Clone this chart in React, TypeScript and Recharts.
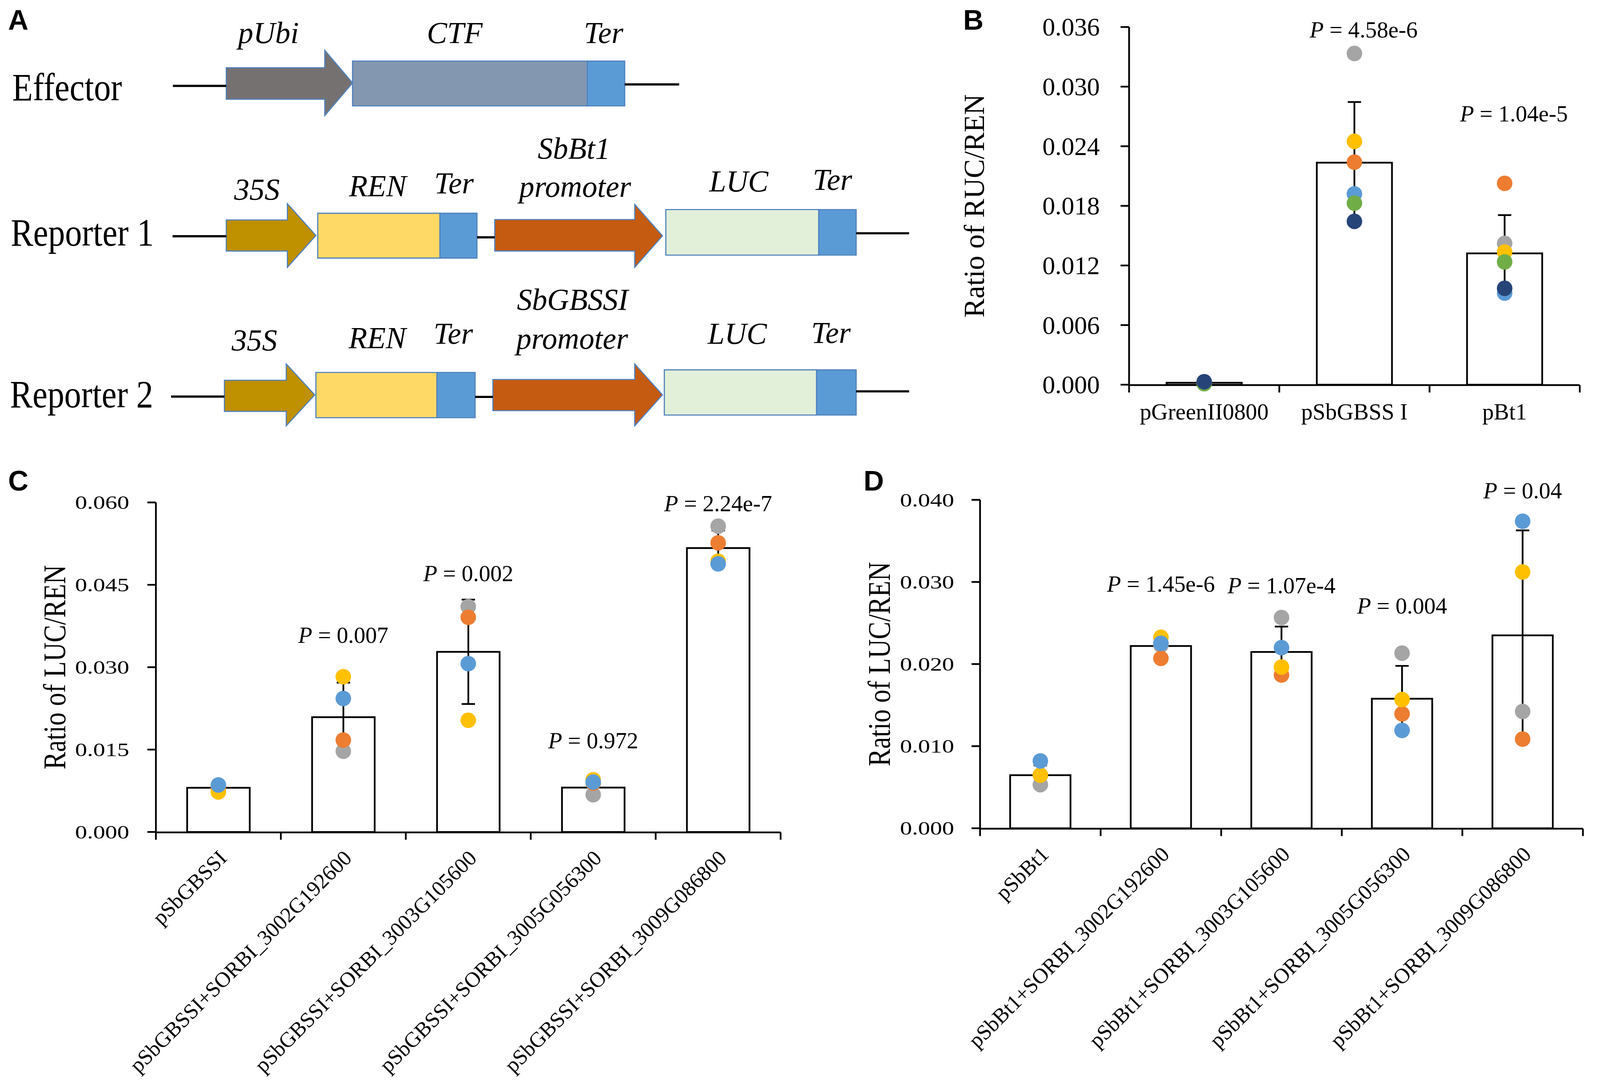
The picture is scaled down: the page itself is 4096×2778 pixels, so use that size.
import React from 'react';
import {
  ComposedChart, Bar, Line, XAxis, YAxis, ErrorBar,
  ReferenceArea, ReferenceLine, ReferenceDot,
} from 'recharts';

const S = 0.948;
const s = (v: number) => v * S;
const SERIF = "'Liberation Serif', 'Times New Roman', serif";
const SANS = "'Liberation Sans', Arial, sans-serif";
const LW = s(4.7);

const COLORS: Record<string, string> = {
  gray: '#A5A5A5',
  orange: '#ED7D31',
  yellow: '#FFC000',
  blue: '#5B9BD5',
  green: '#70AD47',
  darkblue: '#264478',
};

// ---------------- Panel B data ----------------
const bCategories = ['pGreenII0800', 'pSbGBSS I', 'pBt1'];
const bMean = [0.0002, 0.02235, 0.01322];
const bErr = [0.0001, 0.0061, 0.00385];
const bGray = [0.0002, 0.03334, 0.01422];
const bOrange = [0.0002, 0.0224, 0.02027];
const bYellow = [0.0002, 0.02449, 0.01336];
const bBlue = [0.0002, 0.01921, 0.00922];
const bGreen = [0.0001, 0.01827, 0.01236];
const bDarkBlue = [0.0003, 0.01644, 0.0097];
const bPValue = ['', '4.58e-6', '1.04e-5'];
const bPLabelY: (number | null)[] = [null, 0.03495, 0.02648];
const bYTicks = [0, 0.006, 0.012, 0.018, 0.024, 0.03, 0.036];

// ---------------- Panel C data ----------------
const cCategories = [
  'pSbGBSSI',
  'pSbGBSSI+SORBI_3002G192600',
  'pSbGBSSI+SORBI_3003G105600',
  'pSbGBSSI+SORBI_3005G056300',
  'pSbGBSSI+SORBI_3009G086800',
];
const cMean = [0.00805, 0.0209, 0.0328, 0.00808, 0.0517];
const cErr = [0.0006, 0.0063, 0.0095, 0.0012, 0.0032];
const cGray = [0.0083, 0.01471, 0.04103, 0.00678, 0.05568];
const cOrange = [0.00795, 0.01673, 0.03909, 0.0089, 0.05265];
const cYellow = [0.00728, 0.02827, 0.02034, 0.0095, 0.0493];
const cBlue = [0.00856, 0.0243, 0.03065, 0.00909, 0.04882];
const cPValue = ['', '0.007', '0.002', '0.972', '2.24e-7'];
const cPLabelY: (number | null)[] = [null, 0.0344, 0.0457, 0.01524, 0.0584];
const cYTicks = [0, 0.015, 0.03, 0.045, 0.06];

// ---------------- Panel D data ----------------
const dCategories = [
  'pSbBt1',
  'pSbBt1+SORBI_3002G192600',
  'pSbBt1+SORBI_3003G105600',
  'pSbBt1+SORBI_3005G056300',
  'pSbBt1+SORBI_3009G086800',
];
const dMean = [0.00647, 0.0222, 0.02147, 0.01578, 0.0235];
const dErr = [0.0012, 0.0011, 0.0031, 0.004, 0.01278];
const dGray = [0.00531, 0.0223, 0.02567, 0.02133, 0.01423];
const dOrange = [0.00647, 0.0207, 0.01867, 0.01394, 0.01086];
const dYellow = [0.00647, 0.02326, 0.01964, 0.01568, 0.03122];
const dBlue = [0.0082, 0.02253, 0.022, 0.01192, 0.03739];
const dPValue = ['', '1.45e-6', '1.07e-4', '0.004', '0.04'];
const dPLabelY: (number | null)[] = [null, 0.02882, 0.0286, 0.02616, 0.04018];
const dYTicks = [0, 0.01, 0.02, 0.03, 0.04];

// ---------------- Panel A schematic (diagram units) ----------------
const diagramLines = [
  { x1: 467, x2: 611, y: 232 },
  { x1: 1687, x2: 1834, y: 228 },
  { x1: 466, x2: 611, y: 638 },
  { x1: 1288, x2: 1336, y: 641 },
  { x1: 2312, x2: 2455, y: 630 },
  { x1: 462, x2: 606, y: 1071 },
  { x1: 1283, x2: 1331, y: 1072 },
  { x1: 2312, x2: 2455, y: 1057 },
];
const diagramArrows = [
  { x1: 611, neck: 877, x2: 952, bodyTop: 183, bodyBottom: 268, headTop: 136, headBottom: 312, fill: '#767171' },
  { x1: 611, neck: 776, x2: 853, bodyTop: 594, bodyBottom: 678, headTop: 550, headBottom: 722, fill: '#BF9000' },
  { x1: 1336, neck: 1714, x2: 1789, bodyTop: 593, bodyBottom: 678, headTop: 552, headBottom: 722, fill: '#C55A11' },
  { x1: 606, neck: 773, x2: 850, bodyTop: 1027, bodyBottom: 1111, headTop: 983, headBottom: 1150, fill: '#BF9000' },
  { x1: 1331, neck: 1714, x2: 1789, bodyTop: 1025, bodyBottom: 1109, headTop: 983, headBottom: 1150, fill: '#C55A11' },
];
const diagramBoxes = [
  { x1: 952, x2: 1586, y1: 165, y2: 286, fill: '#8497B0' },
  { x1: 1586, x2: 1687, y1: 165, y2: 286, fill: '#5B9BD5' },
  { x1: 858, x2: 1188, y1: 576, y2: 697, fill: '#FFD966' },
  { x1: 1188, x2: 1288, y1: 576, y2: 697, fill: '#5B9BD5' },
  { x1: 1798, x2: 2211, y1: 566, y2: 689, fill: '#E2F0D9' },
  { x1: 2211, x2: 2312, y1: 566, y2: 689, fill: '#5B9BD5' },
  { x1: 853, x2: 1180, y1: 1006, y2: 1128, fill: '#FFD966' },
  { x1: 1180, x2: 1283, y1: 1006, y2: 1128, fill: '#5B9BD5' },
  { x1: 1794, x2: 2205, y1: 999, y2: 1121, fill: '#E2F0D9' },
  { x1: 2205, x2: 2312, y1: 999, y2: 1121, fill: '#5B9BD5' },
];
const diagramPartLabels = [
  { t: 'pUbi', x: 725, y: 116 },
  { t: 'CTF', x: 1228, y: 116 },
  { t: 'Ter', x: 1630, y: 116 },
  { t: '35S', x: 694, y: 539 },
  { t: 'REN', x: 1020, y: 530 },
  { t: 'Ter', x: 1226, y: 522 },
  { t: 'SbBt1', x: 1550, y: 428 },
  { t: 'promoter', x: 1553, y: 532 },
  { t: 'LUC', x: 1995, y: 517 },
  { t: 'Ter', x: 2248, y: 513 },
  { t: '35S', x: 687, y: 946 },
  { t: 'REN', x: 1019, y: 940 },
  { t: 'Ter', x: 1224, y: 928 },
  { t: 'SbGBSSI', x: 1546, y: 836 },
  { t: 'promoter', x: 1545, y: 942 },
  { t: 'LUC', x: 1991, y: 928 },
  { t: 'Ter', x: 2244, y: 926 },
];
const diagramRowLabels = [
  { t: 'Effector', x: 33, y: 271 },
  { t: 'Reporter 1', x: 29, y: 664 },
  { t: 'Reporter 2', x: 27, y: 1100 },
];
const panelLetters = [
  { t: 'A', x: 22, y: 80 },
  { t: 'B', x: 2601, y: 80 },
  { t: 'C', x: 22, y: 1325 },
  { t: 'D', x: 2332, y: 1325 },
];

const OUTLINE = '#4F81BD';

function buildRows(
  cats: string[], mean: number[], err: number[],
  dots: Record<string, number[]>, pVal: string[], pY: (number | null)[],
) {
  return cats.map((name, i) => {
    const row: any = { name, pos: i + 0.5, mean: mean[i], err: err[i], pVal: pVal[i], pY: pY[i] };
    Object.keys(dots).forEach((k) => { row[k] = dots[k][i]; });
    return row;
  });
}

const bRows = buildRows(bCategories, bMean, bErr,
  { gray: bGray, orange: bOrange, yellow: bYellow, blue: bBlue, green: bGreen, darkblue: bDarkBlue },
  bPValue, bPLabelY);
const cRows = buildRows(cCategories, cMean, cErr,
  { gray: cGray, orange: cOrange, yellow: cYellow, blue: cBlue }, cPValue, cPLabelY);
const dRows = buildRows(dCategories, dMean, dErr,
  { gray: dGray, orange: dOrange, yellow: dYellow, blue: dBlue }, dPValue, dPLabelY);

const makeDot = (color: string, r: number) => (props: any) => {
  const { cx, cy, index } = props;
  if (cx == null || cy == null || Number.isNaN(cy)) return <g key={`e-${color}-${index}`} />;
  return <circle key={`d-${color}-${index}`} cx={cx} cy={cy} r={r} fill={color} />;
};

const emptyTick = () => <g />;

type PanelCfg = {
  box: { x: number; y: number; w: number; h: number };
  margin: { top: number; right: number; bottom: number; left: number };
  rows: any[];
  dotKeys: string[];
  yDomain: [number, number];
  yTicks: number[];
  yLabel: string;
  yLabelDist: number;
  yLabelFont: number;
  yLabelScale: number;
  yTickFont: number;
  yTickScaleX: number;
  yTickMargin: number;
  barW: number;
  rotated: boolean;
  xLabelFont: number;
  pFont: number;
  pOffsetX: number;
};

// Axes need a positive size to be drawn; they get 1px each.
const AX = 1;

function BarPanel({ cfg }: { cfg: PanelCfg }) {
  const n = cfg.rows.length;
  const edgeTicks = Array.from({ length: n + 1 }, (_, i) => i);

  const yTick = (p: any) => (
    <g transform={`translate(${p.x},${p.y}) scale(${cfg.yTickScaleX},1)`}>
      <text x={0} y={0} dy="0.34em" textAnchor="end" fontFamily={SERIF}
        fontSize={s(cfg.yTickFont)} fill="#000">
        {Number(p.payload.value).toFixed(3)}
      </text>
    </g>
  );

  const xTick = (p: any) => {
    if (cfg.rotated) {
      const ax = p.x + s(26);
      const ay = p.y + s(74);
      return (
        <text x={ax} y={ay} transform={`rotate(-45 ${ax} ${ay})`} textAnchor="end"
          fontFamily={SERIF} fontSize={s(cfg.xLabelFont)} fill="#000">
          {p.payload.value}
        </text>
      );
    }
    return (
      <text x={p.x} y={p.y + s(94)} textAnchor="middle" fontFamily={SERIF}
        fontSize={s(cfg.xLabelFont)} fill="#000">
        {p.payload.value}
      </text>
    );
  };

  const yLabel = (lp: any) => {
    const vb = lp && lp.viewBox;
    if (!vb) return null;
    const x = vb.x + (vb.width || 0) - s(cfg.yLabelDist);
    const y = vb.y + vb.height / 2;
    return (
      <g transform={`translate(${x},${y}) rotate(-90) scale(1,${cfg.yLabelScale})`}>
        <text x={0} y={0} textAnchor="middle" fontFamily={SERIF}
          fontSize={s(cfg.yLabelFont)} fill="#000">
          {cfg.yLabel}
        </text>
      </g>
    );
  };

  return (
    <div style={{ position: 'absolute', left: s(cfg.box.x), top: s(cfg.box.y) }}>
      <ComposedChart
        width={s(cfg.box.w)}
        height={s(cfg.box.h)}
        data={cfg.rows}
        margin={{
          top: s(cfg.margin.top), right: s(cfg.margin.right),
          bottom: s(cfg.margin.bottom) - 2 * AX, left: s(cfg.margin.left) - AX,
        }}
      >
        <XAxis
          xAxisId="edge" dataKey="pos" type="number" domain={[0, n]} ticks={edgeTicks}
          allowDataOverflow interval={0} height={AX} tickSize={s(20)} tick={emptyTick}
          axisLine={{ stroke: '#000', strokeWidth: LW }}
          tickLine={{ stroke: '#000', strokeWidth: LW }}
        />
        <XAxis
          xAxisId="cat" dataKey="name" type="category" interval={0} height={AX}
          tickSize={0} tickMargin={0} axisLine={false} tickLine={false} tick={xTick}
        />
        <YAxis
          type="number" domain={cfg.yDomain} ticks={cfg.yTicks} interval={0} width={AX}
          tickSize={s(23)} tickMargin={s(cfg.yTickMargin)} tick={yTick}
          axisLine={{ stroke: '#000', strokeWidth: LW }}
          tickLine={{ stroke: '#000', strokeWidth: LW }}
          label={yLabel}
        />
        <Bar xAxisId="cat" dataKey="mean" fill="#FFFFFF" stroke="#000" strokeWidth={LW}
          barSize={s(cfg.barW)} isAnimationActive={false}>
          <ErrorBar dataKey="err" width={s(18)} stroke="#000" strokeWidth={LW} direction="y" />
        </Bar>
        {cfg.dotKeys.map((k) => (
          <Line key={k} xAxisId="cat" dataKey={k} stroke="none" isAnimationActive={false}
            dot={makeDot(COLORS[k], s(21))} activeDot={false} legendType="none" />
        ))}
        {cfg.rows.map((r, i) => (r.pY == null ? null : (
          <ReferenceDot
            key={`p${i}`} xAxisId="cat" x={r.name} y={r.pY} r={0} ifOverflow="visible"
            shape={(sp: any) => (
              <text x={sp.cx + s(cfg.pOffsetX)} y={sp.cy} textAnchor="middle" fontFamily={SERIF}
                fontSize={s(cfg.pFont)} fill="#000">
                <tspan fontStyle="italic">P</tspan>{` = ${r.pVal}`}
              </text>
            )}
          />
        )))}
      </ComposedChart>
    </div>
  );
}

const arrowShape = (p: any, a: typeof diagramArrows[number]) => {
  const fx = (v: number) => p.x + ((v - a.x1) / (a.x2 - a.x1)) * p.width;
  const fy = (v: number) => p.y + ((v - a.headTop) / (a.headBottom - a.headTop)) * p.height;
  const mid = (a.headTop + a.headBottom) / 2;
  const pts = [
    [fx(a.x1), fy(a.bodyTop)], [fx(a.neck), fy(a.bodyTop)], [fx(a.neck), fy(a.headTop)],
    [fx(a.x2), fy(mid)], [fx(a.neck), fy(a.headBottom)], [fx(a.neck), fy(a.bodyBottom)],
    [fx(a.x1), fy(a.bodyBottom)],
  ].map((q) => q.join(',')).join(' ');
  return <polygon points={pts} fill={a.fill} stroke={OUTLINE} strokeWidth={s(3)} strokeLinejoin="miter" />;
};

function DiagramPanel() {
  return (
    <div style={{ position: 'absolute', left: 0, top: 0 }}>
      <ComposedChart width={s(2480)} height={s(1180)} data={[{ u: 0, v: 0 }]}
        margin={{ top: 0, right: 0, bottom: 0, left: 0 }}>
        <XAxis dataKey="u" type="number" domain={[0, 2480]} hide allowDataOverflow />
        <YAxis dataKey="v" type="number" domain={[0, 1180]} hide reversed allowDataOverflow />
        {diagramLines.map((l, i) => (
          <ReferenceLine key={`l${i}`} segment={[{ x: l.x1, y: l.y }, { x: l.x2, y: l.y }]}
            stroke="#000" strokeWidth={s(6)} ifOverflow="visible" />
        ))}
        {diagramBoxes.map((b, i) => (
          <ReferenceArea key={`b${i}`} x1={b.x1} x2={b.x2} y1={b.y1} y2={b.y2}
            fill={b.fill} fillOpacity={1} stroke={OUTLINE} strokeWidth={s(3)} ifOverflow="visible" />
        ))}
        {diagramArrows.map((a, i) => (
          <ReferenceArea key={`a${i}`} x1={a.x1} x2={a.x2} y1={a.headTop} y2={a.headBottom}
            ifOverflow="visible" shape={(p: any) => arrowShape(p, a)} />
        ))}
        {diagramPartLabels.map((t, i) => (
          <ReferenceDot key={`t${i}`} x={t.x} y={t.y} r={0} ifOverflow="visible"
            shape={(sp: any) => (
              <text x={sp.cx} y={sp.cy} textAnchor="middle" fontFamily={SERIF}
                fontStyle="italic" fontSize={s(82)} fill="#000">{t.t}</text>
            )} />
        ))}
        {diagramRowLabels.map((t, i) => (
          <ReferenceDot key={`r${i}`} x={t.x} y={t.y} r={0} ifOverflow="visible"
            shape={(sp: any) => (
              <g transform={`translate(${sp.cx},${sp.cy}) scale(1,1.16)`}>
                <text x={0} y={0} textAnchor="start" fontFamily={SERIF}
                  fontSize={s(91)} fill="#000">{t.t}</text>
              </g>
            )} />
        ))}
      </ComposedChart>
    </div>
  );
}

const panelB: PanelCfg = {
  box: { x: 2500, y: 0, w: 1817, h: 1250 },
  margin: { top: 73, right: 51, bottom: 211, left: 549 },
  rows: bRows,
  dotKeys: ['gray', 'orange', 'yellow', 'blue', 'green', 'darkblue'],
  yDomain: [0, 0.036],
  yTicks: bYTicks,
  yLabel: 'Ratio of RUC/REN',
  yLabelDist: 392,
  yLabelFont: 77,
  yLabelScale: 1,
  yTickFont: 69,
  yTickScaleX: 1,
  yTickMargin: 56,
  barW: 203,
  rotated: false,
  xLabelFont: 62,
  pFont: 62,
  pOffsetX: 25,
};

const panelC: PanelCfg = {
  box: { x: 0, y: 1250, w: 2300, h: 1678 },
  margin: { top: 107, right: 192, bottom: 681, left: 421 },
  rows: cRows,
  dotKeys: ['gray', 'orange', 'yellow', 'blue'],
  yDomain: [0, 0.06],
  yTicks: cYTicks,
  yLabel: 'Ratio of LUC/REN',
  yLabelDist: 245,
  yLabelFont: 71,
  yLabelScale: 1.18,
  yTickFont: 52,
  yTickScaleX: 1.25,
  yTickMargin: 49,
  barW: 169,
  rotated: true,
  xLabelFont: 58,
  pFont: 62,
  pOffsetX: 0,
};

const panelD: PanelCfg = {
  box: { x: 2300, y: 1250, w: 2017, h: 1678 },
  margin: { top: 100, right: 42, bottom: 691, left: 347 },
  rows: dRows,
  dotKeys: ['gray', 'orange', 'yellow', 'blue'],
  yDomain: [0, 0.04],
  yTicks: dYTicks,
  yLabel: 'Ratio of LUC/REN',
  yLabelDist: 244,
  yLabelFont: 71,
  yLabelScale: 1.18,
  yTickFont: 52,
  yTickScaleX: 1.25,
  yTickMargin: 47,
  barW: 163,
  rotated: true,
  xLabelFont: 58,
  pFont: 62,
  pOffsetX: 0,
};

export default function App() {
  return (
    <div style={{
      position: 'absolute', left: 0, top: 0, width: 4096, height: 2778,
      background: '#FFFFFF', overflow: 'hidden',
    }}>
      <DiagramPanel />
      <BarPanel cfg={panelB} />
      <BarPanel cfg={panelC} />
      <BarPanel cfg={panelD} />
      <svg width={4096} height={2778}
        style={{ position: 'absolute', left: 0, top: 0, pointerEvents: 'none' }}>
        {panelLetters.map((l) => (
          <text key={l.t} x={s(l.x)} y={s(l.y)} fontFamily={SANS} fontWeight="bold"
            fontSize={s(76)} fill="#000">{l.t}</text>
        ))}
      </svg>
    </div>
  );
}
